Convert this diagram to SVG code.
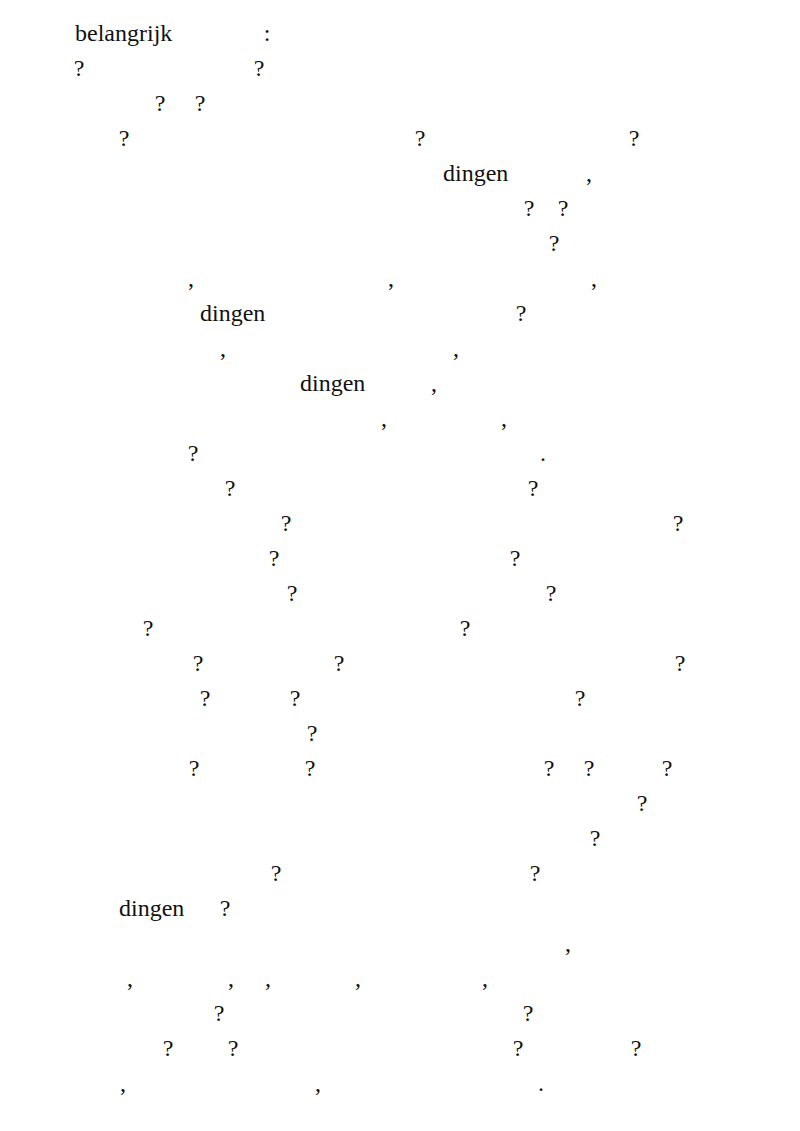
<svg xmlns="http://www.w3.org/2000/svg" width="800" height="1131" viewBox="0 0 800 1131">
<style>
text{font-family:"Liberation Serif","Times New Roman",serif;font-size:24px;fill:#111}
.m{text-anchor:middle}
</style>
<rect width="800" height="1131" fill="#fff"/>
<g id="page">
<text x="75" y="41">belangrijk</text><text class="m" x="267" y="41">:</text>
<text class="m" x="79" y="76">?</text><text class="m" x="259" y="76">?</text>
<text class="m" x="160" y="111">?</text><text class="m" x="200" y="111">?</text>
<text class="m" x="124" y="146">?</text><text class="m" x="420" y="146">?</text><text class="m" x="634" y="146">?</text>
<text x="443" y="181">dingen</text><text class="m" x="589" y="181">,</text>
<text class="m" x="529" y="216">?</text><text class="m" x="563" y="216">?</text>
<text class="m" x="554" y="251">?</text>
<text class="m" x="191" y="286">,</text><text class="m" x="391" y="286">,</text><text class="m" x="594" y="286">,</text>
<text x="200" y="321">dingen</text><text class="m" x="521" y="321">?</text>
<text class="m" x="223" y="356">,</text><text class="m" x="456" y="356">,</text>
<text x="300" y="391">dingen</text><text class="m" x="434" y="391">,</text>
<text class="m" x="384" y="426">,</text><text class="m" x="504" y="426">,</text>
<text class="m" x="193" y="461">?</text><text class="m" x="543" y="461">.</text>
<text class="m" x="230" y="496">?</text><text class="m" x="533" y="496">?</text>
<text class="m" x="286" y="531">?</text><text class="m" x="678" y="531">?</text>
<text class="m" x="274" y="566">?</text><text class="m" x="515" y="566">?</text>
<text class="m" x="292" y="601">?</text><text class="m" x="551" y="601">?</text>
<text class="m" x="148" y="636">?</text><text class="m" x="465" y="636">?</text>
<text class="m" x="198" y="671">?</text><text class="m" x="339" y="671">?</text><text class="m" x="680" y="671">?</text>
<text class="m" x="205" y="706">?</text><text class="m" x="295" y="706">?</text><text class="m" x="580" y="706">?</text>
<text class="m" x="312" y="741">?</text>
<text class="m" x="194" y="776">?</text><text class="m" x="310" y="776">?</text><text class="m" x="549" y="776">?</text><text class="m" x="589" y="776">?</text><text class="m" x="667" y="776">?</text>
<text class="m" x="642" y="811">?</text>
<text class="m" x="595" y="846">?</text>
<text class="m" x="276" y="881">?</text><text class="m" x="535" y="881">?</text>
<text x="119" y="916">dingen</text><text class="m" x="225" y="916">?</text>
<text class="m" x="568" y="951">,</text>
<text class="m" x="130" y="986">,</text><text class="m" x="231" y="986">,</text><text class="m" x="268" y="986">,</text><text class="m" x="358" y="986">,</text><text class="m" x="485" y="986">,</text>
<text class="m" x="219" y="1021">?</text><text class="m" x="528" y="1021">?</text>
<text class="m" x="168" y="1056">?</text><text class="m" x="233" y="1056">?</text><text class="m" x="518" y="1056">?</text><text class="m" x="636" y="1056">?</text>
<text class="m" x="123" y="1091">,</text><text class="m" x="318" y="1091">,</text><text class="m" x="541" y="1091">.</text>
</g>
</svg>
